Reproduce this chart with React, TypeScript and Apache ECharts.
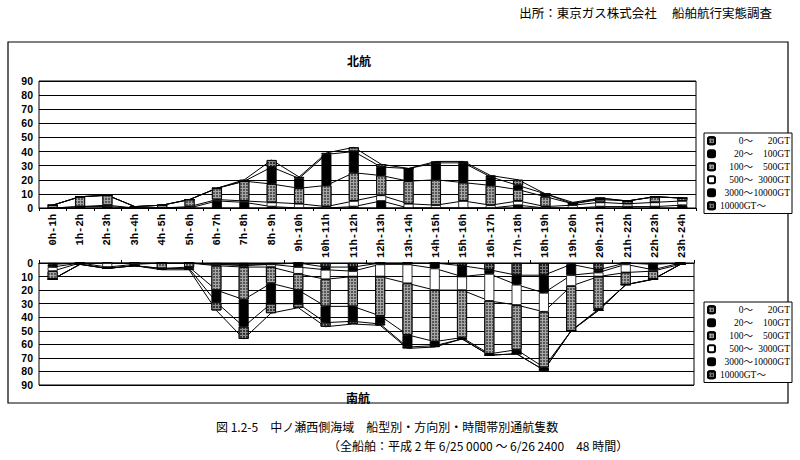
import { useEffect, useRef } from 'react';
import * as echarts from 'echarts';

const hours = [
  '0h-1h', '1h-2h', '2h-3h', '3h-4h', '4h-5h', '5h-6h', '6h-7h', '7h-8h',
  '8h-9h', '9h-10h', '10h-11h', '11h-12h', '12h-13h', '13h-14h', '14h-15h', '15h-16h',
  '16h-17h', '17h-18h', '18h-19h', '19h-20h', '20h-21h', '21h-22h', '22h-23h', '23h-24h',
];

const sizeClasses = ['0～20GT', '20～100GT', '100～500GT', '500～3000GT', '3000～10000GT', '10000GT～'];

// 北航 (northbound), counts per hour for each tonnage class
const north0_20 = [0, 0, 0, 0, 0, 0, 0, 1, 5, 1, 1, 3, 2, 0, 1, 1, 1, 4, 0, 1, 0, 0, 0, 0];
const north20_100 = [0, 0, 0, 0, 0, 0, 0, 0, 12, 7, 22, 15, 6, 9, 12, 14, 6, 3, 2, 0, 1, 0, 0, 0];
const north100_500 = [2, 7, 7, 1, 2, 5, 8, 14, 13, 11, 15, 20, 14, 16, 18, 13, 14, 8, 7, 1, 2, 2, 4, 2];
const north500_3000 = [0, 0, 1, 0, 0, 1, 1, 1, 3, 3, 1, 4, 4, 3, 2, 5, 2, 3, 1, 2, 3, 2, 3, 3];
const north3000_10000 = [0, 1, 1, 0, 0, 0, 5, 4, 1, 0, 0, 1, 5, 0, 0, 0, 0, 2, 0, 0, 1, 1, 1, 2];
const north10000 = [0, 0, 0, 0, 0, 0, 0, 0, 0, 0, 0, 0, 0, 0, 0, 0, 0, 0, 0, 0, 0, 0, 0, 0];

// 南航 (southbound)
const south0_20 = [0, 0, 0, 0, 1, 1, 6, 9, 7, 3, 3, 2, 1, 1, 1, 0, 0, 0, 0, 0, 0, 0, 0, 0];
const south20_100 = [0, 0, 0, 0, 0, 1, 9, 20, 15, 10, 12, 11, 6, 9, 3, 1, 1, 3, 2, 0, 1, 0, 0, 0];
const south100_500 = [6, 1, 1, 1, 4, 3, 18, 24, 12, 12, 20, 22, 29, 38, 38, 35, 39, 33, 41, 33, 24, 9, 6, 0];
const south500_3000 = [3, 0, 3, 1, 0, 0, 1, 1, 2, 5, 7, 4, 9, 14, 16, 10, 20, 15, 14, 8, 3, 6, 1, 1];
const south3000_10000 = [2, 0, 0, 0, 0, 0, 0, 1, 0, 3, 2, 3, 1, 1, 4, 8, 3, 7, 13, 8, 2, 1, 4, 0];
const south10000 = [1, 0, 0, 0, 0, 0, 1, 1, 1, 0, 3, 3, 0, 0, 0, 2, 5, 9, 9, 1, 5, 0, 1, 0];

const yTicks = [0, 10, 20, 30, 40, 50, 60, 70, 80, 90];

const checker = (shade: string) => ({
  symbol: 'rect',
  symbolSize: 1,
  color: shade,
  dashArrayX: [2, 1],
  dashArrayY: [2, 1],
  rotation: 0,
});

const classStyles: any[] = [
  { color: '#8e8e8e', decal: checker('#333') },
  { color: '#000' },
  { color: '#a6a6a6', decal: checker('#555') },
  { color: '#fff' },
  { color: '#000' },
  { color: '#767676', decal: checker('#222') },
];

const SERIF = '"Liberation Serif", "Noto Sans CJK JP", serif';
const MONO = '"Liberation Mono", monospace';
const CJK = '"Noto Sans CJK JP", sans-serif';

export default function App() {
  const chartRef = useRef<HTMLDivElement>(null);

  useEffect(() => {
    document.body.style.margin = '0';
    if (!chartRef.current) return;
    const chart = echarts.init(chartRef.current, undefined, { renderer: 'svg' });

    const north = [north0_20, north20_100, north100_500, north500_3000, north3000_10000, north10000];
    const south = [south0_20, south20_100, south100_500, south500_3000, south3000_10000, south10000];

    // stacked from the axis outward: largest ships first
    const stackOrder = [5, 4, 3, 2, 1, 0];

    const makePanel = (vals: number[][], idx: number) => {
      const bars: any[] = stackOrder.map((k) => ({
        name: sizeClasses[k],
        type: 'bar',
        stack: 'p' + idx,
        xAxisIndex: idx,
        yAxisIndex: idx,
        barWidth: 10,
        data: vals[k],
        itemStyle: { ...classStyles[k], borderColor: '#000', borderWidth: 0.8 },
        z: 3,
        silent: true,
      }));
      // series lines joining the tops of each stacked segment
      const lines: any[] = [];
      let cum = hours.map(() => 0);
      stackOrder.forEach((k) => {
        cum = cum.map((c, i) => c + vals[k][i]);
        lines.push({
          type: 'line',
          xAxisIndex: idx,
          yAxisIndex: idx,
          data: cum.slice(),
          symbol: 'none',
          lineStyle: { color: '#000', width: 1 },
          z: 2,
          silent: true,
        });
      });
      return [...lines, ...bars];
    };

    const yAxisBase = {
      type: 'value',
      min: 0,
      max: 90,
      interval: 10,
      axisLine: { show: false },
      axisTick: { show: false },
      splitLine: { lineStyle: { color: '#000', width: 1 } },
      axisLabel: {
        color: '#000',
        fontWeight: 'bold',
        fontSize: 10.5,
        fontFamily: '"Liberation Sans", sans-serif',
        margin: 6,
        formatter: (v: number) => (yTicks.includes(v) ? String(v) : ''),
      },
    };

    const legendText = (name: string) => {
      const parts = name.split('～');
      if (parts[1] === '') return `{c|${name}}`;
      return `{a|${parts[0]}～}{b|${parts[1]}}`;
    };

    const legendBase = {
      orient: 'vertical',
      left: 704,
      data: sizeClasses,
      itemWidth: 7,
      itemHeight: 7,
      itemGap: 3.5,
      padding: [3, 2, 3, 3],
      borderColor: '#000',
      borderWidth: 1,
      backgroundColor: '#fff',
      selectedMode: false,
      formatter: legendText,
      textStyle: {
        color: '#000',
        fontSize: 9.5,
        fontFamily: SERIF,
        rich: {
          a: { width: 33, align: 'right', fontSize: 9.5, fontFamily: SERIF },
          b: { width: 37, align: 'right', fontSize: 9.5, fontFamily: SERIF },
          c: { fontSize: 9.5, fontFamily: SERIF },
        },
      },
    };

    const option: any = {
      animation: false,
      backgroundColor: '#fff',
      title: [
        { text: '北航', left: 342, top: 49, textStyle: { fontSize: 12, fontWeight: 'bold', fontFamily: CJK, color: '#000' } },
        { text: '南航', left: 341, top: 386, textStyle: { fontSize: 12, fontWeight: 'bold', fontFamily: CJK, color: '#000' } },
      ],
      graphic: [
        {
          type: 'rect',
          shape: { x: 8, y: 42, width: 780, height: 361 },
          style: { fill: 'none', stroke: '#000', lineWidth: 1.2 },
          silent: true,
          z: -1,
        },
        {
          type: 'text',
          right: 28,
          top: 6,
          style: { text: '出所：東京ガス株式会社　 船舶航行実態調査', fontSize: 12.5, fontFamily: CJK, fill: '#000' },
        },
        {
          type: 'text',
          left: 216,
          top: 420,
          style: { text: '図 1.2-5　中ノ瀬西側海域　船型別・方向別・時間帯別通航隻数', fontSize: 12, fontFamily: CJK, fill: '#000' },
        },
        {
          type: 'text',
          left: 328,
          top: 439,
          style: { text: '（全船舶：平成 2 年 6/25 0000 ～ 6/26 2400　48 時間）', fontSize: 12, fontFamily: CJK, fill: '#000' },
        },
      ],
      legend: [
        { ...legendBase, top: 133 },
        { ...legendBase, top: 302 },
      ],
      grid: [
        { left: 39, top: 81, width: 657, height: 127, show: true, borderColor: '#000', borderWidth: 1 },
        { left: 39, top: 263, width: 655, height: 122, show: true, borderColor: '#000', borderWidth: 1 },
      ],
      xAxis: [
        {
          type: 'category',
          gridIndex: 0,
          data: hours,
          axisLine: { lineStyle: { color: '#000', width: 1 } },
          axisTick: { show: true, length: 3, lineStyle: { color: '#000' } },
          axisLabel: {
            interval: 0,
            rotate: 90,
            color: '#000',
            fontSize: 10.5,
            fontWeight: 'bold',
            fontFamily: MONO,
            margin: 6,
          },
        },
        {
          type: 'category',
          gridIndex: 1,
          position: 'top',
          data: hours,
          axisLine: { lineStyle: { color: '#000', width: 1 } },
          axisTick: { show: true, length: 3, lineStyle: { color: '#000' } },
          axisLabel: { show: false },
        },
      ],
      yAxis: [
        { ...yAxisBase, gridIndex: 0 },
        { ...yAxisBase, gridIndex: 1, inverse: true },
      ],
      series: [...makePanel(north, 0), ...makePanel(south, 1)],
    };

    chart.setOption(option);
    return () => {
      chart.dispose();
    };
  }, []);

  return <div ref={chartRef} style={{ width: 800, height: 460 }} />;
}
